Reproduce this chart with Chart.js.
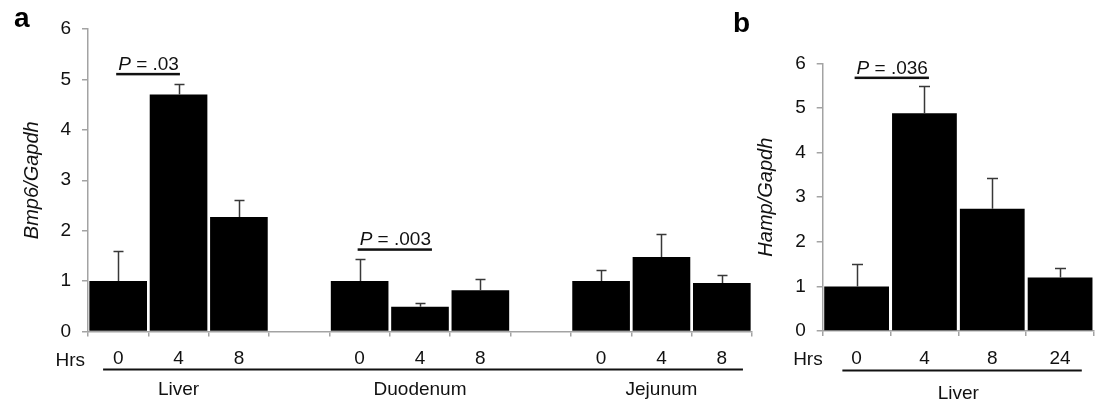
<!DOCTYPE html>
<html><head><meta charset="utf-8">
<script src="https://cdn.jsdelivr.net/npm/chart.js@4/dist/chart.umd.min.js"></script>
<style>
html,body{margin:0;padding:0;background:#fff;}
#wrap{position:relative;width:1095px;height:407px;overflow:hidden;background:#fff;}
canvas{position:absolute;left:0;top:0;}
</style></head><body>
<div id="wrap"><canvas id="ca" width="1095" height="407"></canvas><canvas id="cb" width="1095" height="407"></canvas></div>
<script>
// ---- data: panel a (Bmp6/Gapdh) ----
const hoursA = ['0','4','8','','0','4','8','','0','4','8'];
const bmp6Mean = [1.0, 4.7, 2.27, null, 1.0, 0.49, 0.82, null, 1.0, 1.48, 0.96];
const bmp6Err  = [0.6, 0.2, 0.34, null, 0.43, 0.08, 0.22, null, 0.22, 0.46, 0.17];
const tissuesA = ['Liver', 'Duodenum', 'Jejunum'];
const tissueIndexA = [1, 5, 9];
const pTextsA = ['.03', '.003'];
const pStartIndexA = [0, 4];
const pLevelA = [5.11, 1.63];
// ---- data: panel b (Hamp/Gapdh) ----
const hoursB = ['0','4','8','24'];
const hampMean = [1.0, 4.88, 2.74, 1.2];
const hampErr  = [0.5, 0.61, 0.68, 0.21];
const tissuesB = ['Liver'];
const tissueIndexB = [1.5];
const pTextsB = ['.036'];
const pStartIndexB = [0];
const pLevelB = [5.68];
const yMin = 0, yMax = 6, yStep = 1;

const FONT = '"Liberation Sans", Arial, Helvetica, sans-serif';
const AXIS = '#a3a3a3';
const TXT = '#111';
const FS = 19;

const extras = {
  id: 'extras',
  afterDatasetsDraw(chart, args, o) {
    const ctx = chart.ctx, xs = chart.scales.x, ys = chart.scales.y;
    const data = chart.data.datasets[0].data;
    ctx.save();
    // error bars
    ctx.strokeStyle = '#383838'; ctx.lineWidth = 1.5;
    o.errors.forEach((e, i) => {
      if (e == null || data[i] == null) return;
      const px = Math.round(xs.getPixelForValue(i)) + 0.5;
      const y0 = ys.getPixelForValue(data[i]);
      const y1 = Math.round(ys.getPixelForValue(data[i] + e)) + 0.5;
      ctx.beginPath();
      ctx.moveTo(px, y0); ctx.lineTo(px, y1);
      ctx.moveTo(px - o.cap, y1); ctx.lineTo(px + o.cap, y1);
      ctx.stroke();
    });
    // p values (underlined text)
    ctx.fillStyle = TXT; ctx.textBaseline = 'alphabetic'; ctx.textAlign = 'left';
    o.pTexts.forEach((t, k) => {
      const x0 = xs.getPixelForValue(o.pStart[k]);
      const yl = ys.getPixelForValue(o.pLevel[k]);
      ctx.font = 'italic ' + FS + 'px ' + FONT;
      ctx.fillText('P', x0, yl - 4);
      const w1 = ctx.measureText('P').width;
      ctx.font = FS + 'px ' + FONT;
      const rest = ' = ' + t;
      ctx.fillText(rest, x0 + w1, yl - 4);
      const w = w1 + ctx.measureText(rest).width;
      ctx.fillRect(x0 - 2, yl - 1, w + 3, 2.5);
    });
    // Hrs
    ctx.font = FS + 'px ' + FONT; ctx.textAlign = 'right';
    ctx.fillText('Hrs', xs.left + o.hrsDx, ys.bottom + 34);
    // group line
    const gx0 = xs.getPixelForValue(o.lineFrom), gx1 = xs.getPixelForValue(o.lineTo);
    ctx.fillRect(gx0, ys.bottom + o.lineDy - 1, gx1 - gx0, 2);
    // tissue labels
    ctx.textAlign = 'center';
    o.tissues.forEach((t, k) => {
      ctx.fillText(t, xs.getPixelForValue(o.tissueIdx[k]), ys.bottom + o.labelDy);
    });
    // panel letter
    ctx.font = 'bold 28px ' + FONT; ctx.textAlign = 'left'; ctx.fillStyle = '#000';
    ctx.fillText(o.letter, o.letterX, o.letterY);
    ctx.restore();
  }
};

function makeChart(id, labels, values, opts) {
  return new Chart(document.getElementById(id), {
    type: 'bar',
    data: { labels: labels, datasets: [{ data: values, backgroundColor: '#000', borderWidth: 0,
      barPercentage: 0.955, categoryPercentage: 1.0 }] },
    plugins: [extras],
    options: {
      responsive: false, animation: false, devicePixelRatio: 1,
      layout: { padding: opts.padding },
      plugins: { legend: { display: false }, tooltip: { enabled: false }, extras: opts.extras },
      scales: {
        x: {
          offset: true,
          grid: { display: true, offset: true, drawOnChartArea: false, drawTicks: true, tickLength: 5, color: AXIS, lineWidth: 1.5 },
          border: { display: true, color: AXIS, width: 1.5 },
          ticks: { color: TXT, font: { family: FONT, size: FS }, padding: 11, maxRotation: 0, autoSkip: false },
          afterFit: s => { s.height = opts.xHeight; }
        },
        y: {
          min: yMin, max: yMax,
          grid: { display: true, drawOnChartArea: false, drawTicks: true, tickLength: 6, color: AXIS, lineWidth: 1.5 },
          border: { display: true, color: AXIS, width: 1.5 },
          ticks: { stepSize: yStep, color: TXT, font: { family: FONT, size: FS }, padding: 11 },
          title: { display: true, text: opts.yTitle, color: TXT, font: { family: FONT, size: 20, style: 'italic' }, padding: { top: opts.titlePad, bottom: 0 } },
          afterFit: s => { s.width = opts.yWidth; }
        }
      }
    }
  });
}

makeChart('ca', hoursA, bmp6Mean, {
  padding: { left: 0, top: 29, right: 343, bottom: 0 },
  xHeight: 75.5, yWidth: 88, titlePad: 20, yTitle: 'Bmp6/Gapdh',
  extras: { errors: bmp6Err, cap: 5, pTexts: pTextsA, pStart: pStartIndexA, pLevel: pLevelA,
    hrsDx: -3, lineFrom: -0.25, lineTo: 10.35, lineDy: 38, tissues: tissuesA, tissueIdx: tissueIndexA,
    labelDy: 63.5, letter: 'a', letterX: 14, letterY: 27 }
});
makeChart('cb', hoursB, hampMean, {
  padding: { left: 740, top: 63.3, right: 1, bottom: 0 },
  xHeight: 76, yWidth: 82.7, titlePad: 14, yTitle: 'Hamp/Gapdh',
  extras: { errors: hampErr, cap: 5.5, pTexts: pTextsB, pStart: pStartIndexB, pLevel: pLevelB,
    hrsDx: 0, lineFrom: -0.21, lineTo: 3.32, lineDy: 39.5, tissues: tissuesB, tissueIdx: tissueIndexB,
    labelDy: 68, letter: 'b', letterX: 733, letterY: 32 }
});
</script>
</body></html>
